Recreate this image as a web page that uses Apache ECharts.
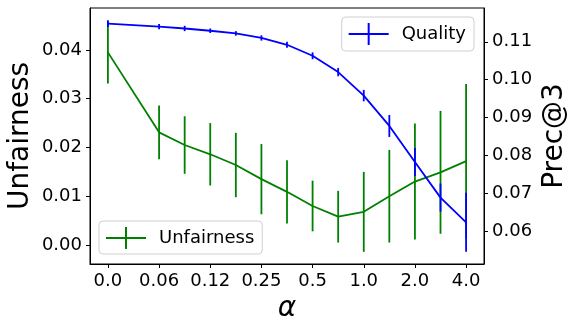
<!DOCTYPE html>
<html>
<head>
<meta charset="utf-8">
<script src="https://cdn.jsdelivr.net/npm/echarts@6/dist/echarts.min.js"></script>
<style>
  html, body { margin: 0; padding: 0; background: #fff; }
  #main { width: 574px; height: 331px; }
</style>
</head>
<body>
<div id="main"></div>
<script>
// x positions (position 1 is not used) and the tick labels shown every 2 steps
var xPos = [0, 2, 3, 4, 5, 6, 7, 8, 9, 10, 11, 12, 13, 14];
var tickPos = [0, 2, 4, 6, 8, 10, 12, 14];
var tickLabels = ['0.0', '0.06', '0.12', '0.25', '0.5', '1.0', '2.0', '4.0'];

// Unfairness (left axis)
var unfair = [0.0395, 0.0231, 0.0205, 0.0186, 0.0164, 0.0135, 0.0109, 0.0080, 0.0058, 0.0068, 0.0100, 0.0130, 0.0149, 0.0172];
var unfairErr = [0.0064, 0.0055, 0.0059, 0.0064, 0.0066, 0.0072, 0.0065, 0.0052, 0.0053, 0.0082, 0.0095, 0.0119, 0.0126, 0.0158];

// Quality, Prec@3 (right axis)
var quality = [0.1148, 0.1140, 0.1135, 0.1129, 0.1122, 0.1110, 0.1092, 0.1063, 0.1020, 0.0958, 0.0878, 0.0783, 0.0689, 0.0624];
var qualityErr = [0.0009, 0.0007, 0.0007, 0.0006, 0.0006, 0.0007, 0.0008, 0.0009, 0.0011, 0.0015, 0.0029, 0.0037, 0.0037, 0.0078];

var leftTicks = [0, 0.01, 0.02, 0.03, 0.04];
var rightTicks = [0.06, 0.07, 0.08, 0.09, 0.10, 0.11];

var FONT = 'DejaVu Sans';
var crossIcon = 'path://M0,10h40v2h-40z M19,0h2v22h-2z';

function pts(ys) {
    return xPos.map(function (x, i) { return [x, ys[i]]; });
}
function bars(ys, es) {
    return xPos.map(function (x, i) { return [x, ys[i] - es[i], ys[i] + es[i]]; });
}
function errRender(color) {
    return function (params, api) {
        var lo = api.coord([api.value(0), api.value(1)]);
        var hi = api.coord([api.value(0), api.value(2)]);
        return {
            type: 'line',
            shape: { x1: lo[0], y1: lo[1], x2: hi[0], y2: hi[1] },
            style: { stroke: color, lineWidth: 1.8 }
        };
    };
}

var myChart = echarts.init(document.getElementById('main'));
var option = {
    animation: false,
    textStyle: { fontFamily: FONT },
    grid: {
        left: 90, right: 90, top: 8, bottom: 67,
        outerBoundsMode: 'none',
        show: true, borderColor: '#000', borderWidth: 1
    },
    legend: [
        {
            data: ['Quality'],
            right: 100, top: 17,
            orient: 'vertical',
            icon: crossIcon,
            itemWidth: 40, itemHeight: 22,
            padding: [6, 8, 6, 7],
            borderColor: '#d0d0d0', borderWidth: 1, borderRadius: 4,
            backgroundColor: 'rgba(255,255,255,0.8)',
            textStyle: { fontFamily: FONT, fontSize: 18, color: '#000', padding: [0, 0, 0, 8] }
        },
        {
            data: ['Unfairness'],
            left: 99, top: 221,
            orient: 'vertical',
            icon: crossIcon,
            itemWidth: 40, itemHeight: 22,
            padding: [6, 8, 5, 7],
            borderColor: '#d0d0d0', borderWidth: 1, borderRadius: 4,
            backgroundColor: 'rgba(255,255,255,0.8)',
            textStyle: { fontFamily: FONT, fontSize: 18, color: '#000', padding: [0, 0, 0, 8] }
        }
    ],
    xAxis: {
        type: 'value',
        min: -0.7, max: 14.7,
        name: 'α',
        nameLocation: 'middle',
        nameGap: 31,
        nameMoveOverlap: false,
        nameTextStyle: { fontFamily: FONT, fontSize: 28, fontStyle: 'italic', color: '#000' },
        axisLine: { show: true, onZero: false, lineStyle: { color: '#000', width: 1 } },
        axisTick: { show: true, customValues: tickPos, length: 4, lineStyle: { color: '#000' } },
        axisLabel: {
            customValues: tickPos,
            margin: 8,
            fontFamily: FONT, fontSize: 18, color: '#000',
            formatter: function (v) { return tickLabels[tickPos.indexOf(Math.round(v))]; }
        },
        splitLine: { show: false }
    },
    yAxis: [
        {
            type: 'value',
            position: 'left',
            min: -0.0039, max: 0.0486,
            name: 'Unfairness',
            nameLocation: 'middle',
            nameGap: 55,
            nameMoveOverlap: false,
            nameTextStyle: { fontFamily: FONT, fontSize: 28, color: '#000' },
            axisLine: { show: true, onZero: false, lineStyle: { color: '#000', width: 1 } },
            axisTick: { show: true, customValues: leftTicks, length: 4, lineStyle: { color: '#000' } },
            axisLabel: {
                customValues: leftTicks,
                margin: 8,
                fontFamily: FONT, fontSize: 18, color: '#000',
                formatter: function (v) { return v.toFixed(2); }
            },
            splitLine: { show: false }
        },
        {
            type: 'value',
            position: 'right',
            min: 0.0514, max: 0.1189,
            name: 'Prec@3',
            nameLocation: 'middle',
            nameGap: 57,
            nameRotate: 90,
            nameMoveOverlap: false,
            nameTextStyle: { fontFamily: FONT, fontSize: 28, color: '#000' },
            axisLine: { show: true, onZero: false, lineStyle: { color: '#000', width: 1 } },
            axisTick: { show: true, customValues: rightTicks, length: 4, lineStyle: { color: '#000' } },
            axisLabel: {
                customValues: rightTicks,
                margin: 8,
                fontFamily: FONT, fontSize: 18, color: '#000',
                formatter: function (v) { return v.toFixed(2); }
            },
            splitLine: { show: false }
        }
    ],
    series: [
        {
            name: 'Unfairness',
            type: 'line',
            yAxisIndex: 0,
            data: pts(unfair),
            symbol: 'none',
            lineStyle: { color: '#008000', width: 1.8 },
            itemStyle: { color: '#008000' },
            z: 2
        },
        {
            name: 'Unfairness',
            type: 'custom',
            yAxisIndex: 0,
            data: bars(unfair, unfairErr),
            renderItem: errRender('#008000'),
            itemStyle: { color: '#008000' },
            z: 2
        },
        {
            name: 'Quality',
            type: 'line',
            yAxisIndex: 1,
            data: pts(quality),
            symbol: 'none',
            lineStyle: { color: '#0000ff', width: 1.8 },
            itemStyle: { color: '#0000ff' },
            z: 3
        },
        {
            name: 'Quality',
            type: 'custom',
            yAxisIndex: 1,
            data: bars(quality, qualityErr),
            renderItem: errRender('#0000ff'),
            itemStyle: { color: '#0000ff' },
            z: 3
        }
    ]
};
myChart.setOption(option);
</script>
</body>
</html>
